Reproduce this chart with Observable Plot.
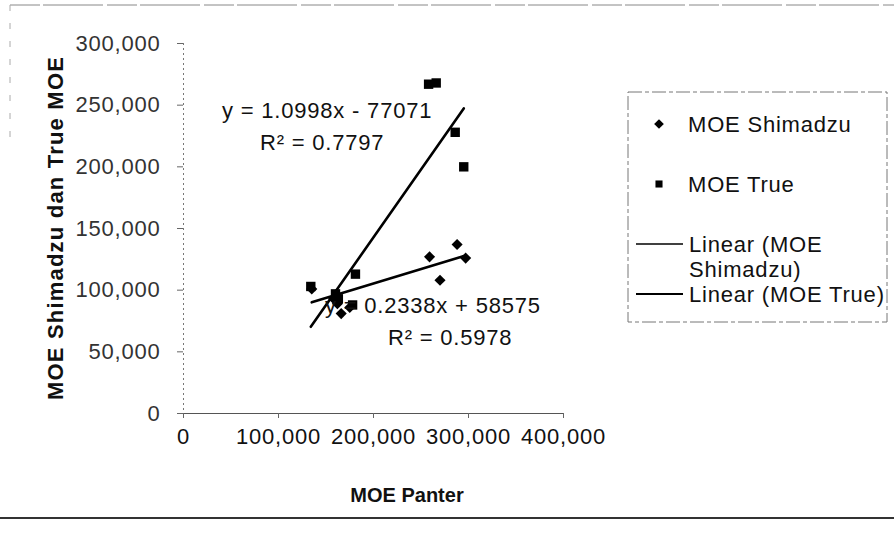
<!DOCTYPE html>
<html>
<head>
<meta charset="utf-8">
<script src="https://cdn.jsdelivr.net/npm/d3@7"></script>
<script src="https://cdn.jsdelivr.net/npm/@observablehq/plot@0.6"></script>
<style>
  html, body { margin: 0; padding: 0; background: #fff; }
  #chart { width: 894px; height: 536px; }
  svg { font-family: "Liberation Sans", Arial, sans-serif; letter-spacing: 0.8px; }
</style>
</head>
<body>
<div id="chart"></div>
<script>
// ---- data ----
const xTicks = [0, 100000, 200000, 300000, 400000];
const yTicks = [0, 50000, 100000, 150000, 200000, 250000, 300000];

const shimadzuPanter = [135000, 158000, 162000, 166000, 175000, 259000, 270000, 288000, 297000];
const shimadzuMoe    = [101000,  93000,  89000,  81000,  86000, 127000, 108000, 137000, 126000];

const truePanter = [134000, 160000, 163000, 178000, 181000, 258000, 266000, 286000, 295000];
const trueMoe    = [103000,  97000,  93000,  88000, 113000, 267000, 268000, 228000, 200000];

const shimadzuFit = { slope: 0.2338, intercept: 58575, r2: "0.5978", label: "y = 0.2338x + 58575" };
const trueFit     = { slope: 1.0998, intercept: -77071, r2: "0.7797", label: "y = 1.0998x - 77071" };

const legendLabels = ["MOE Shimadzu", "MOE True", "Linear (MOE", "Shimadzu)", "Linear (MOE True)"];
const xTitle = "MOE Panter";
const yTitle = "MOE Shimadzu dan True MOE";

// ---- tables built from the arrays ----
const shimadzu = shimadzuPanter.map((x, i) => ({x, y: shimadzuMoe[i]}));
const truth = truePanter.map((x, i) => ({x, y: trueMoe[i]}));
function fitLine(xs, fit) {
  const [a, b] = d3.extent(xs);
  return [a, b].map(x => ({x, y: fit.slope * x + fit.intercept}));
}
const fmt = d3.format(",");

const chart = Plot.plot({
  width: 894,
  height: 536,
  marginLeft: 183,
  marginRight: 331,
  marginTop: 43,
  marginBottom: 123,
  style: { fontFamily: "'Liberation Sans', Arial, sans-serif", background: "#fff" },
  x: { domain: [0, 400000] },
  y: { domain: [0, 300000] },
  marks: [
    Plot.ruleX([0], { stroke: "#777", strokeDasharray: "2,3", strokeWidth: 1 }),
    Plot.ruleY([0], { stroke: "#555", strokeWidth: 1.2 }),
    Plot.axisY({ ticks: yTicks, tickFormat: fmt, tickSize: 6, tickPadding: 17, fontSize: 22, fill: "#333", stroke: "#666", label: null }),
    Plot.axisX({ ticks: xTicks, tickFormat: fmt, tickSize: 5, tickPadding: 10, fontSize: 22, fill: "#111", stroke: "#666", label: null }),
    Plot.line(fitLine(truePanter, trueFit), { x: "x", y: "y", stroke: "#000", strokeWidth: 2.6 }),
    Plot.line(fitLine(shimadzuPanter, shimadzuFit), { x: "x", y: "y", stroke: "#000", strokeWidth: 2.6 }),
    Plot.dot(truth, { x: "x", y: "y", symbol: "square", r: 5.3, fill: "#000" }),
    Plot.dot(shimadzu, { x: "x", y: "y", symbol: "diamond2", r: 5, fill: "#000" })
  ]
});
document.getElementById("chart").appendChild(chart);

const svg = d3.select(chart);
const font = "'Liberation Sans', Arial, sans-serif";

// outer frame
svg.append("line").attr("x1", 10).attr("x2", 894).attr("y1", 5).attr("y2", 5)
  .attr("stroke", "#888").attr("stroke-width", 1).attr("stroke-dasharray", "30,3,60,4");
svg.append("line").attr("x1", 10).attr("x2", 10).attr("y1", 5).attr("y2", 140)
  .attr("stroke", "#aaa").attr("stroke-width", 1).attr("stroke-dasharray", "6,12");
svg.append("line").attr("x1", 0).attr("x2", 894).attr("y1", 518).attr("y2", 518)
  .attr("stroke", "#333").attr("stroke-width", 2);

// axis titles
svg.append("text").attr("x", 407).attr("y", 502).attr("text-anchor", "middle")
  .attr("font-family", font).attr("font-weight", "bold").attr("font-size", 20).attr("fill", "#111")
  .style("letter-spacing", "0px")
  .text(xTitle);
svg.append("text").attr("transform", "translate(63,228) rotate(-90)").attr("text-anchor", "middle")
  .attr("font-family", font).attr("font-weight", "bold").attr("font-size", 22).attr("fill", "#111")
  .style("letter-spacing", "1.2px")
  .text(yTitle);

// trend equations
function eq(x, y, txt) {
  svg.append("text").attr("x", x).attr("y", y).attr("text-anchor", "start")
    .attr("font-family", font).attr("font-size", 22).attr("fill", "#111").text(txt);
}
eq(222, 118, trueFit.label);
eq(260, 150, "R² = " + trueFit.r2);
eq(325, 313, shimadzuFit.label);
eq(388, 345, "R² = " + shimadzuFit.r2);

// legend
const lg = svg.append("g").attr("font-family", font).attr("font-size", 22).attr("fill", "#111")
  .attr("text-anchor", "start");
lg.append("rect").attr("x", 628).attr("y", 92).attr("width", 259).attr("height", 230)
  .attr("fill", "none").attr("stroke", "#777").attr("stroke-dasharray", "14,3,4,3");
lg.append("path").attr("d", d3.symbol(d3.symbolDiamond2, 60)()).attr("transform", "translate(659,124)").attr("fill", "#000");
lg.append("text").attr("x", 688).attr("y", 132).text(legendLabels[0]);
lg.append("path").attr("d", d3.symbol(d3.symbolSquare, 50)()).attr("transform", "translate(659,184)").attr("fill", "#000");
lg.append("text").attr("x", 688).attr("y", 192).text(legendLabels[1]);
lg.append("line").attr("x1", 636).attr("x2", 683).attr("y1", 244).attr("y2", 244).attr("stroke", "#000").attr("stroke-width", 1.5);
lg.append("text").attr("x", 689).attr("y", 252).text(legendLabels[2]);
lg.append("text").attr("x", 689).attr("y", 277).text(legendLabels[3]);
lg.append("line").attr("x1", 636).attr("x2", 683).attr("y1", 294).attr("y2", 294).attr("stroke", "#000").attr("stroke-width", 2.2);
lg.append("text").attr("x", 689).attr("y", 302).text(legendLabels[4]);
</script>
</body>
</html>
